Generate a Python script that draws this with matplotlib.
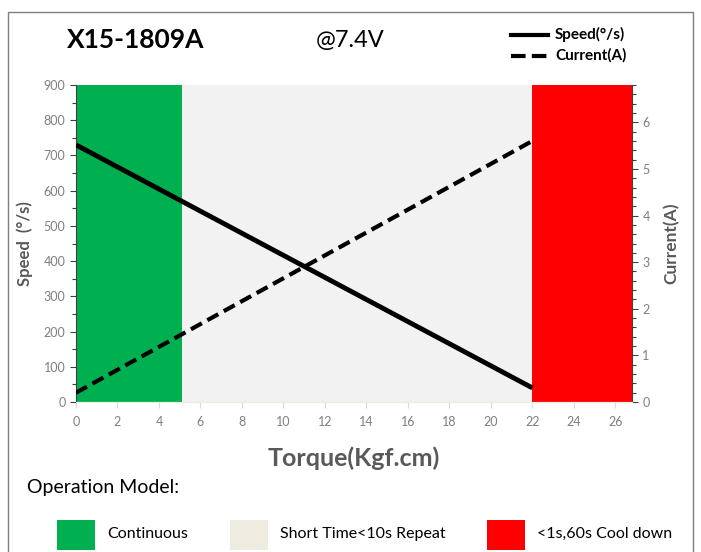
import matplotlib.pyplot as plt
from matplotlib.patches import Rectangle
from matplotlib.lines import Line2D
from matplotlib.ticker import MultipleLocator

plt.rcParams['font.family'] = ['Lato', 'DejaVu Sans']

# data
torque = [0, 22]
speed = [730, 40]
current = [0.2, 5.6]

zone_edges = [0, 5.1, 22, 26.8]
zone_colors = ['#00B050', '#F2F2F2', '#FF0000']
zone_labels = ['Continuous', 'Short Time<10s Repeat', '<1s,60s Cool down']
legend_colors = ['#00B050', '#EEECE1', '#FF0000']

W, H = 701, 552
fig = plt.figure(figsize=(W / 100, H / 100), dpi=100)

def fx(px):
    return px / W

def fy(py):
    return 1 - py / H

ax = fig.add_axes([fx(76), fy(402), fx(632) - fx(76), fy(85) - fy(402)])
ax2 = ax.twinx()

for i in range(3):
    ax.axvspan(zone_edges[i], zone_edges[i + 1], color=zone_colors[i], lw=0, zorder=0)

ax.plot(torque, speed, color='black', lw=3.5, solid_capstyle='butt', zorder=3)
ax2.plot(torque, current, color='black', lw=3, ls=(0, (3, 1.5)), zorder=3)

ax.set_xlim(0, 26.8)
ax.set_ylim(0, 900)
ax2.set_ylim(0, 6.8)
ax.xaxis.set_major_locator(MultipleLocator(2))
ax.yaxis.set_major_locator(MultipleLocator(100))
ax.yaxis.set_minor_locator(MultipleLocator(50))
ax2.yaxis.set_major_locator(MultipleLocator(1))
ax2.yaxis.set_minor_locator(MultipleLocator(0.2))

grey = '#7F7F7F'
for a in (ax, ax2):
    a.tick_params(axis='both', labelsize=9, colors=grey, labelcolor=grey, length=4, width=0.8)
    a.tick_params(which='minor', length=3, width=0.8, color='#404040')
    a.spines['top'].set_visible(False)
    a.spines['bottom'].set_color('#EEECE1')
ax.tick_params(axis='y', color='#404040')
ax2.tick_params(axis='y', color='#404040')
ax.tick_params(axis='x', color='#D9D9D9', pad=6)
ax.spines['left'].set_color('#404040')
ax.spines['right'].set_visible(False)
ax2.spines['left'].set_visible(False)
ax2.spines['right'].set_color('#404040')

ax.set_xlabel('Torque(Kgf.cm)', fontsize=18, fontweight='bold', color='#595959', labelpad=13)
ax.set_ylabel('Speed  (°/s)', fontsize=12, fontweight='bold', color='#595959', labelpad=8)
ax2.set_ylabel('Current(A)', fontsize=12.5, fontweight='bold', color='#595959', labelpad=10)

# outer frame
fig.patches.append(Rectangle((fx(8), -0.05), fx(693) - fx(8), fy(12) + 0.05,
                             transform=fig.transFigure, fill=False, ec='#7F7F7F', lw=1))

fig.text(fx(136), fy(40), 'X15-1809A', fontsize=19, fontweight='bold', ha='center', va='center')
fig.text(fx(350), fy(40), '@7.4V', fontsize=17, ha='center', va='center')

fig.lines.append(Line2D([fx(511), fx(548)], [fy(35), fy(35)], transform=fig.transFigure,
                        color='black', lw=3))
fig.lines.append(Line2D([fx(511), fx(548)], [fy(56), fy(56)], transform=fig.transFigure,
                        color='black', lw=3, ls=(0, (3.5, 1.5))))
fig.text(fx(555), fy(34), 'Speed(°/s)', fontsize=11, fontweight='bold', va='center')
fig.text(fx(555), fy(55), 'Current(A)', fontsize=11, fontweight='bold', va='center')

fig.text(fx(27), fy(487), 'Operation Model:', fontsize=14, va='center')

box_x = [57, 230, 487]
for bx, col, lab in zip(box_x, legend_colors, zone_labels):
    fig.patches.append(Rectangle((fx(bx), fy(550)), fx(38), fy(520) - fy(550),
                                 transform=fig.transFigure, color=col, lw=0))
    fig.text(fx(bx + 50), fy(534), lab, fontsize=11.5, va='center')

fig.savefig('out.png', dpi=100)
